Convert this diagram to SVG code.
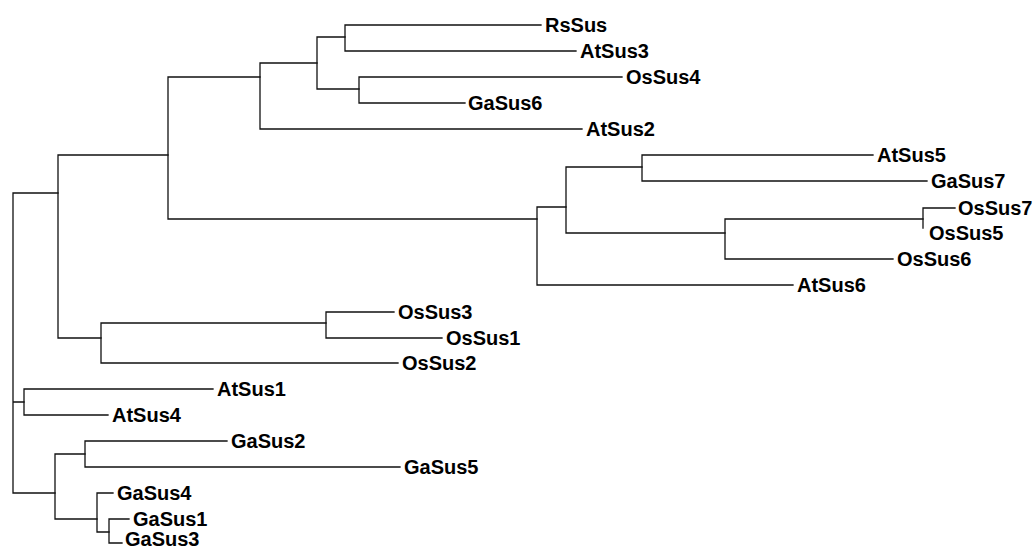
<svg xmlns="http://www.w3.org/2000/svg" width="1035" height="551" viewBox="0 0 1035 551">
<style>
.e{fill:none;stroke:#111;stroke-width:1.3;stroke-linecap:square}
.t{font-family:"Liberation Sans",Arial,sans-serif;font-weight:bold;font-size:20px;fill:#000}
</style>
<rect width="1035" height="551" fill="#fff"/>
<g id="connectors">
<path class="e" d="M13,193V493M13,193H58M13,402H24M13,493H55"/>
<path class="e" d="M58,155V338M58,155H168M58,338H101"/>
<path class="e" d="M168,77V219M168,77H260M168,219H537"/>
<path class="e" d="M260,63V129M260,63H317M260,129H582"/>
<path class="e" d="M317,37V89M317,37H345M317,89H359"/>
<path class="e" d="M345,25V51M345,25H541M345,51H576"/>
<path class="e" d="M359,77V103M359,77H622M359,103H465"/>
<path class="e" d="M537,207V285M537,207H566M537,285H793"/>
<path class="e" d="M566,167V233M566,167H642M566,233H725"/>
<path class="e" d="M642,155V181M642,155H873M642,181H927"/>
<path class="e" d="M725,219V259M725,219H923M725,259H893"/>
<path class="e" d="M923,208V228M923,208H955"/>
<path class="e" d="M101,323V363M101,323H326M101,363H398"/>
<path class="e" d="M326,312V338M326,312H394M326,338H442"/>
<path class="e" d="M24,389V415M24,389H213M24,415H108"/>
<path class="e" d="M55,454V519M55,454H85M55,519H97"/>
<path class="e" d="M85,441V467M85,441H227M85,467H400"/>
<path class="e" d="M97,493V532M97,493H113M97,532H109"/>
<path class="e" d="M109,519V543M109,519H129M109,543H122"/>
</g>
<g id="RsSus"><text class="t" x="545" y="32">RsSus</text></g>
<g id="AtSus3"><text class="t" x="580" y="58">AtSus3</text></g>
<g id="OsSus4"><text class="t" x="626" y="84">OsSus4</text></g>
<g id="GaSus6"><text class="t" x="468" y="110">GaSus6</text></g>
<g id="AtSus2"><text class="t" x="586" y="136">AtSus2</text></g>
<g id="AtSus5"><text class="t" x="877" y="162">AtSus5</text></g>
<g id="GaSus7"><text class="t" x="931" y="188">GaSus7</text></g>
<g id="OsSus7"><text class="t" x="958" y="215">OsSus7</text></g>
<g id="OsSus5"><text class="t" x="929" y="240">OsSus5</text></g>
<g id="OsSus6"><text class="t" x="897" y="266">OsSus6</text></g>
<g id="AtSus6"><text class="t" x="797" y="292">AtSus6</text></g>
<g id="OsSus3"><text class="t" x="398" y="319">OsSus3</text></g>
<g id="OsSus1"><text class="t" x="446" y="345">OsSus1</text></g>
<g id="OsSus2"><text class="t" x="402" y="370">OsSus2</text></g>
<g id="AtSus1"><text class="t" x="217" y="396">AtSus1</text></g>
<g id="AtSus4"><text class="t" x="112" y="422">AtSus4</text></g>
<g id="GaSus2"><text class="t" x="231" y="448">GaSus2</text></g>
<g id="GaSus5"><text class="t" x="404" y="474">GaSus5</text></g>
<g id="GaSus4"><text class="t" x="117" y="500">GaSus4</text></g>
<g id="GaSus1"><text class="t" x="133" y="526">GaSus1</text></g>
<g id="GaSus3"><text class="t" x="125" y="546">GaSus3</text></g>
</svg>
